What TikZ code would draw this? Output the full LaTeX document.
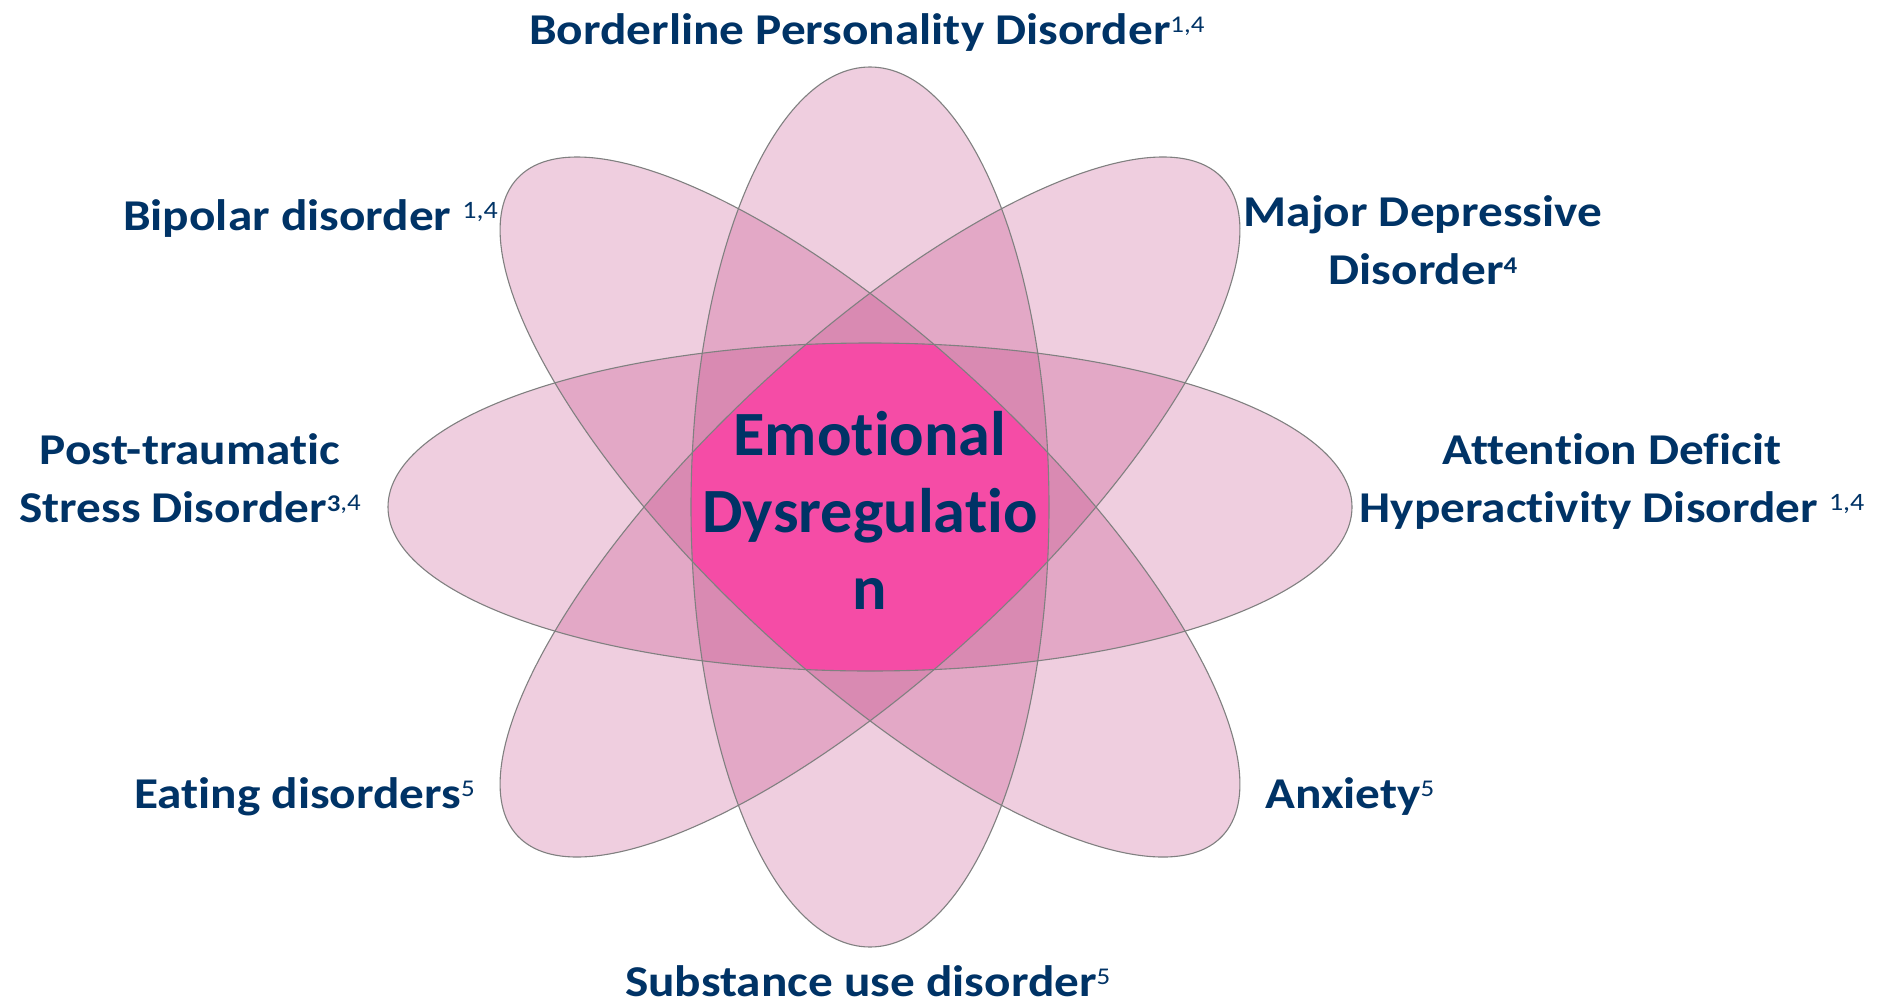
\documentclass[tikz,border=0pt]{standalone}
\usepackage{fontspec}
\setmainfont{Carlito}[Ligatures=NoCommon]
% labels are set a little wide
\newfontfamily\labelfam{Carlito}[FakeStretch=1.12, Ligatures=NoCommon]
\newfontfamily\corefam{Carlito}[FakeStretch=1.02, Ligatures=NoCommon]
\definecolor{petalpink}{RGB}{184,27,107}
\definecolor{corepink}{RGB}{245,76,166}
\definecolor{rimgray}{RGB}{128,128,128}
\definecolor{navy}{RGB}{0,51,102}
% superscript reference marks
\newcommand\refthin[2][24]{\raisebox{12pt}{\fontsize{#1}{#1}\selectfont\mdseries #2}}
\newcommand\refbold[2][24]{\raisebox{11pt}{\fontsize{#1}{#1}\selectfont\bfseries #2}}
\begin{document}
\begin{tikzpicture}[x=1pt,y=-1pt,
  petal/.style={fill=petalpink, fill opacity=0.21},
  rim/.style={draw=rimgray, line width=1.1pt},
  label/.style={text=navy, inner sep=0pt, font=\labelfam\fontsize{44}{58}\selectfont\bfseries},
  corelabel/.style={text=navy, inner sep=0pt, align=center, font=\corefam\fontsize{63}{77}\selectfont\bfseries},
  tiltA/.style={rotate around={43:(c)}},
  tiltB/.style={rotate around={-43:(c)}}]
\useasboundingbox (0,0) rectangle (1880,1004);
\fill[white] (0,0) rectangle (1880,1004);
\coordinate (c) at (870,507);

% translucent petals
\fill[petal] (c) ellipse [x radius=179, y radius=440];
\fill[petal] (c) ellipse [x radius=482, y radius=164];
\fill[petal, tiltA] (c) ellipse [x radius=482, y radius=164];
\fill[petal, tiltB] (c) ellipse [x radius=482, y radius=164];

% common core of all four petals
\begin{scope}
  \clip (c) ellipse [x radius=179, y radius=440];
  \clip (c) ellipse [x radius=482, y radius=164];
  \clip[tiltA] (c) ellipse [x radius=482, y radius=164];
  \clip[tiltB] (c) ellipse [x radius=482, y radius=164];
  \fill[corepink] (300,0) rectangle (1500,1004);
\end{scope}

% petal outlines
\draw[rim] (c) ellipse [x radius=179, y radius=440];
\draw[rim] (c) ellipse [x radius=482, y radius=164];
\draw[rim, tiltA] (c) ellipse [x radius=482, y radius=164];
\draw[rim, tiltB] (c) ellipse [x radius=482, y radius=164];

\node[corelabel] (core) at (870,510) {Emotional\\Dysregulatio\\n};

\node[label, anchor=base west] (bpd) at (529,44) {Borderline Personality Disorder\refthin{1,4}};
\node[label, anchor=base west] (bip) at (123,230) {Bipolar disorder \refthin[25]{1,4}};
\node[label, align=center] (mdd) at (1423,240) {Major Depressive\\Disorder\refbold{4}};
\node[label, align=center] (ptsd) at (190,478) {Post-traumatic\\Stress Disorder\refbold{3}\refthin{,4}};
\node[label, align=center] (adhd) at (1612,482) {Attention Deficit\\Hyperactivity Disorder \refthin[25]{1,4}};
\node[label, anchor=base west] (eat) at (134,808) {Eating disorders\refthin{5}};
\node[label, anchor=base west] (anx) at (1265,808) {Anxiety\refthin{5}};
\node[label, anchor=base west] (sud) at (625,996) {Substance use disorder\refthin{5}};
\end{tikzpicture}
\end{document}
